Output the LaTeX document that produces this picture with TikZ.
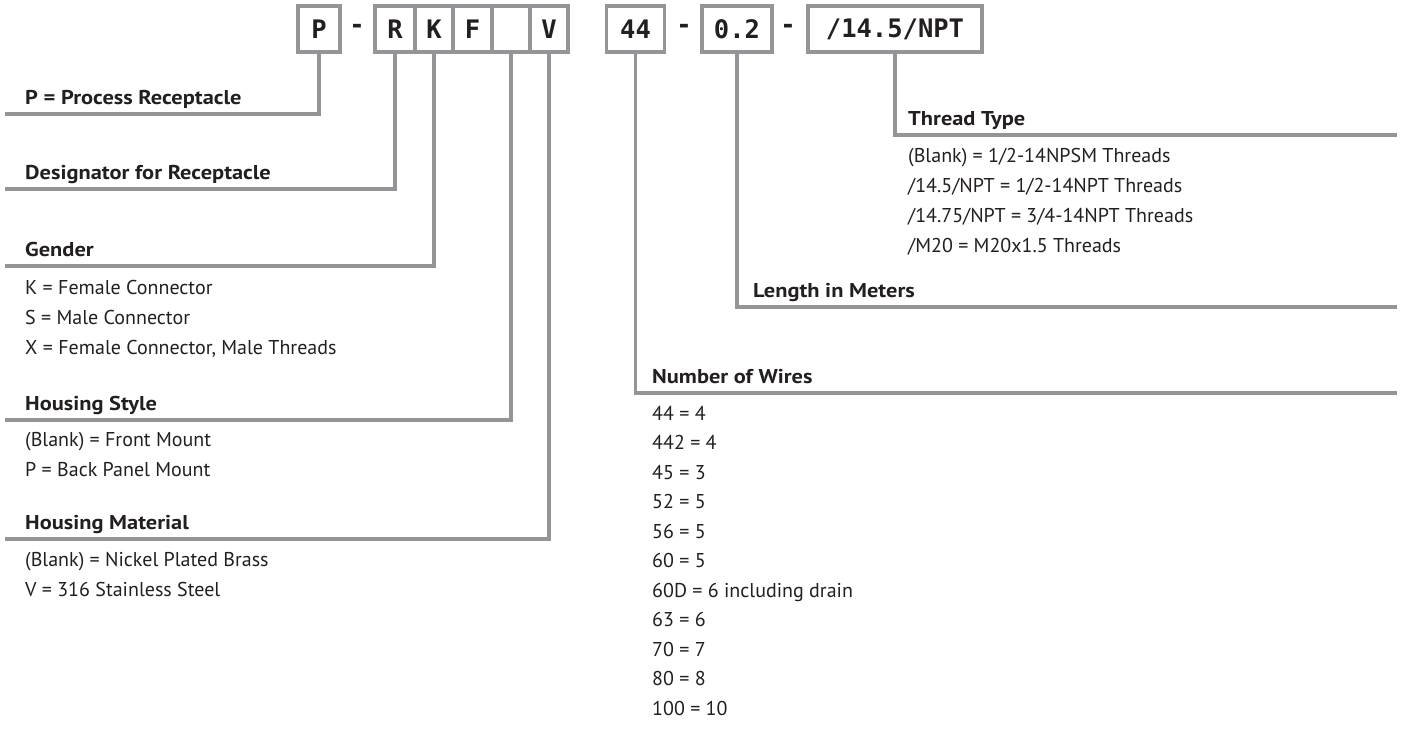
\documentclass[tikz,border=0pt]{standalone}
\usepackage{fontspec}
\setmainfont{PT Sans}
\newfontfamily\hdfont[FakeStretch=1.12]{PT Sans}
\newfontfamily\codefont{DejaVu Sans Mono}
\definecolor{lg}{RGB}{147,149,152}
\definecolor{tx}{RGB}{35,31,32}
\tikzset{
  box/.style={draw=lg, line width=3.2pt, minimum height=46pt, inner sep=0pt, text=tx,
    font=\codefont\bfseries\fontsize{25.5}{26}\selectfont},
  dashnode/.style={inner sep=0pt, text=tx, font=\codefont\bfseries\fontsize{25.5}{26}\selectfont},
  lead/.style={draw=lg, line width=3.2pt},
  lbl/.style={anchor=west, inner sep=0pt, text=tx, font=\fontsize{20}{24}\selectfont,
    text height=14pt, text depth=0pt},
  hd/.style={lbl, font=\hdfont\bfseries\fontsize{20}{24}\selectfont}
}
\begin{document}
\begin{tikzpicture}[x=1pt,y=-1pt]
\useasboundingbox (0,0) rectangle (1404,740);
% code boxes
\node[box, minimum width=42pt] (bP) at (319,29) {P};
\node[dashnode] (d1) at (357,29) {-};
\node[box, minimum width=40pt] (bR) at (395,29) {R};
\node[box, minimum width=38pt] (bK) at (434,29) {K};
\node[box, minimum width=39pt] (bF) at (472.5,29) {F};
\node[box, minimum width=38pt] (bB) at (511,29) {};
\node[box, minimum width=38pt] (bV) at (549,29) {V};
\node[box, minimum width=58pt] (b44) at (635.5,29) {44};
\node[dashnode] (d2) at (684,29) {-};
\node[box, minimum width=70pt] (bL) at (737,29) {0.2};
\node[dashnode] (d3) at (788,29) {-};
\node[box, minimum width=174pt] (bT) at (895,29) {/14.5/NPT};
% end coordinates
\coordinate (eP) at (5,114);
\coordinate (eR) at (5,189);
\coordinate (eK) at (5,266);
\coordinate (eB) at (5,420);
\coordinate (eV) at (5,539);
\coordinate (eT) at (1397,135);
\coordinate (eL) at (1397,307);
\coordinate (eW) at (1397,393);
% leaders
\draw[lead] (bP.south) |- (eP);
\draw[lead] (bR.south) |- (eR);
\draw[lead] (bK.south) |- (eK);
\draw[lead] (bB.south) |- (eB);
\draw[lead] (bV.south) |- (eV);
\draw[lead] (bT.south) |- (eT);
\draw[lead] (bL.south) |- (eL);
\draw[lead] (b44.south) |- (eW);
% left labels
\node[hd] (tP) at (25,97) {P = Process Receptacle};
\node[hd] (tR) at (25,172) {Designator for Receptacle};
\node[hd] (tG) at (25,249) {Gender};
\node[lbl] (g1) at (25,287) {K = Female Connector};
\node[lbl] (g2) at (25,317) {S = Male Connector};
\node[lbl] (g3) at (25,347) {X = Female Connector, Male Threads};
\node[hd] (tS) at (25,403) {Housing Style};
\node[lbl] (s1) at (25,439) {(Blank) = Front Mount};
\node[lbl] (s2) at (25,469) {P = Back Panel Mount};
\node[hd] (tM) at (25,522) {Housing Material};
\node[lbl] (m1) at (25,559) {(Blank) = Nickel Plated Brass};
\node[lbl] (m2) at (25,589) {V = 316 Stainless Steel};
% right labels
\node[hd] (tT) at (908,118) {Thread Type};
\node[lbl] (t1) at (908,155) {(Blank) = 1/2-14NPSM Threads};
\node[lbl] (t2) at (908,185) {/14.5/NPT = 1/2-14NPT Threads};
\node[lbl] (t3) at (908,215) {/14.75/NPT = 3/4-14NPT Threads};
\node[lbl] (t4) at (908,245) {/M20 = M20x1.5 Threads};
\node[hd] (tL) at (753,290) {Length in Meters};
\node[hd] (tW) at (652,376) {Number of Wires};
\node[lbl] (w1) at (652,413) {44 = 4};
\node[lbl] (w2) at (652,442.5) {442 = 4};
\node[lbl] (w3) at (652,472) {45 = 3};
\node[lbl] (w4) at (652,501.5) {52 = 5};
\node[lbl] (w5) at (652,531) {56 = 5};
\node[lbl] (w6) at (652,560.5) {60 = 5};
\node[lbl] (w7) at (652,590) {60D = 6 including drain};
\node[lbl] (w8) at (652,619.5) {63 = 6};
\node[lbl] (w9) at (652,649) {70 = 7};
\node[lbl] (w10) at (652,678.5) {80 = 8};
\node[lbl] (w11) at (652,708) {100 = 10};
\end{tikzpicture}
\end{document}
